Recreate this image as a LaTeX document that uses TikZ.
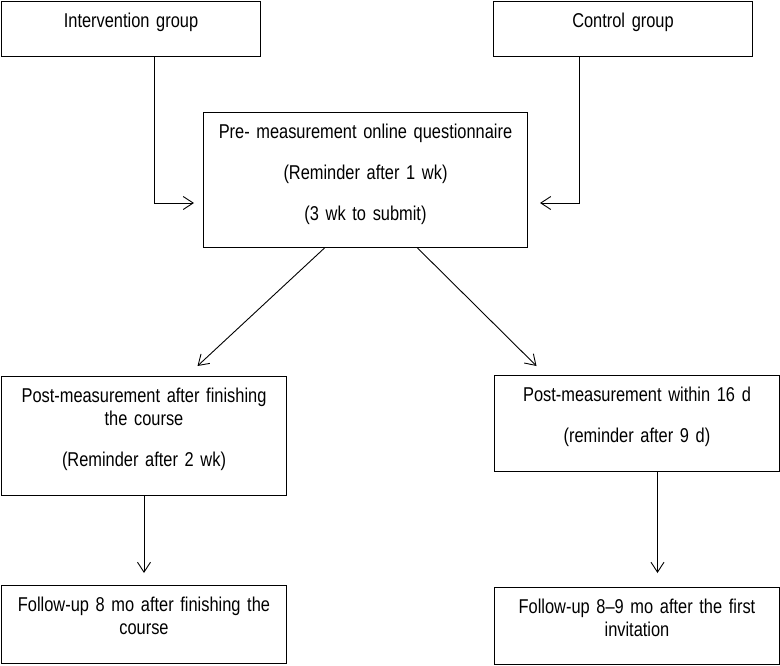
\documentclass[tikz,border=0pt]{standalone}
\usepackage{fontspec}
\setmainfont[FakeStretch=0.82, WordSpace=0.8]{Liberation Sans}
\usepackage{tikz}
\usetikzlibrary{arrows.meta}
\usetikzlibrary{positioning}

\begin{document}
\begin{tikzpicture}[
        x=1pt, y=-1pt,
        box/.style={rectangle, draw=black, line width=1pt, inner sep=0pt, anchor=north west, align=center, text height=26pt, font=\fontsize{20}{23}\selectfont},
        arr/.style={line width=0.9pt, -{Straight Barb[length=10pt, width=13pt]}}
      ]
        \useasboundingbox (0,0) rectangle (780,665);

        \node[box]  (interv)   at(1, 1)      [text width=259pt, text depth=29pt]    {Intervention group};
        \node[box]  (control)  at(493, 1)    [text width=259pt, text depth=29pt]    {Control group};
        \node[box]  (pre)      at(203, 112)  [text width=324pt, text depth=109pt]   {Pre- measurement online questionnaire\\[18pt](Reminder after 1 wk)\\[18pt](3 wk to submit)};
        \node[box]  (postI)    at(1, 376)    [text width=285pt, text depth=93pt]    {Post-measurement after finishing\\the course\\[18pt](Reminder after 2 wk)};
        \node[box]  (postC)    at(494, 375)  [text width=285pt, text depth=70pt]    {Post-measurement within 16 d\\[18pt](reminder after 9 d)};
        \node[box]  (followI)  at(1, 585)    [text width=285pt, text depth=52pt]    {Follow-up 8 mo after finishing the\\course};
        \node[box]  (followC)  at(494, 587)  [text width=285pt, text depth=51pt]    {Follow-up 8--9 mo after the first\\invitation};

        \draw[arr]  ([xshift=23.5pt]interv.south) |- ([xshift=-9pt, yshift=-23pt]pre.west);
        \draw[arr]  ([xshift=-43.5pt]control.south) |- ([xshift=12pt, yshift=-23pt]pre.east);
        \draw[arr]  ([xshift=-41pt]pre.south) -- ([xshift=53.5pt, yshift=10pt]postI.north);
        \draw[arr]  ([xshift=52pt]pre.south) -- ([xshift=-100.5pt, yshift=9pt]postC.north);
        \draw[arr]  (postI.south) -- ([yshift=12pt]followI.north);
        \draw[arr]  ([xshift=20.5pt]postC.south) -- ([xshift=20.5pt, yshift=14pt]followC.north);
      \end{tikzpicture}
\end{document}
